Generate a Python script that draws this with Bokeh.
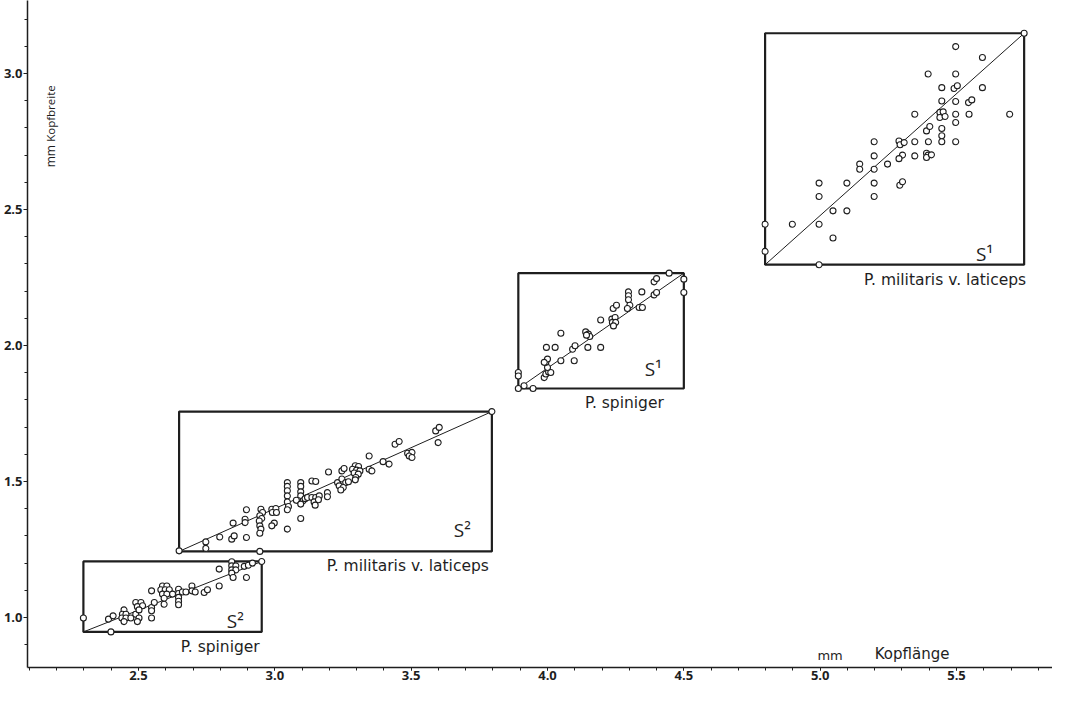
import math
from bokeh.plotting import figure
from bokeh.models import FixedTicker, Label, PrintfTickFormatter
from bokeh.embed import file_html
from bokeh.resources import INLINE

# ---------------- data (mm) ----------------
# P. spiniger, S2
sp_s2_x = [2.298, 2.399, 2.390, 2.407, 2.447, 2.441, 2.454, 2.439, 2.454, 2.447,
           2.472, 2.490, 2.502, 2.496, 2.490, 2.509, 2.496, 2.515, 2.502, 2.548,
           2.548, 2.548, 2.548, 2.558, 2.588, 2.604, 2.582, 2.598, 2.613, 2.588,
           2.604, 2.594, 2.594, 2.625, 2.647, 2.647, 2.647, 2.647, 2.647, 2.661,
           2.674, 2.696, 2.696, 2.708, 2.741, 2.753, 2.796, 2.796, 2.842, 2.842,
           2.857, 2.842, 2.857, 2.842, 2.847, 2.888, 2.903, 2.918, 2.896, 2.952]
sp_s2_y = [0.998, 0.947, 0.994, 1.006, 1.028, 1.012, 1.012, 0.998, 0.998, 0.985,
           0.998, 1.012, 0.998, 0.985, 1.055, 1.055, 1.040, 1.043, 1.028, 1.098,
           1.037, 1.025, 0.998, 1.055, 1.116, 1.116, 1.102, 1.102, 1.102, 1.086,
           1.086, 1.071, 1.049, 1.086, 1.104, 1.088, 1.074, 1.060, 1.047, 1.094,
           1.094, 1.116, 1.098, 1.094, 1.092, 1.102, 1.178, 1.116, 1.205, 1.190,
           1.190, 1.175, 1.175, 1.163, 1.147, 1.188, 1.192, 1.200, 1.147, 1.206]

# P. militaris v. laticeps, S2
ml_s2_x = [2.649, 2.747, 2.747, 2.798, 2.842, 2.851, 2.847, 2.896, 2.896, 2.891,
           2.891, 2.945, 2.949, 2.955, 2.945, 2.952, 2.943, 2.945, 2.949, 2.945,
           2.989, 3.004, 2.991, 3.006, 2.998, 2.989, 3.046, 3.046, 3.046, 3.046,
           3.046, 3.050, 3.046, 3.046, 3.095, 3.095, 3.095, 3.095, 3.087, 3.104,
           3.079, 3.095, 3.111, 3.095, 3.136, 3.150, 3.120, 3.136, 3.150, 3.163,
           3.144, 3.160, 3.148, 3.193, 3.193, 3.197, 3.230, 3.246, 3.260, 3.236,
           3.251, 3.242, 3.270, 3.246, 3.254, 3.295, 3.307, 3.285, 3.300, 3.312,
           3.291, 3.306, 3.297, 3.295, 3.346, 3.346, 3.356, 3.397, 3.419, 3.441,
           3.456, 3.487, 3.503, 3.493, 3.503, 3.590, 3.603, 3.599, 3.796]
ml_s2_y = [1.245, 1.278, 1.254, 1.296, 1.288, 1.300, 1.347, 1.396, 1.294, 1.361,
           1.349, 1.243, 1.398, 1.386, 1.374, 1.364, 1.355, 1.337, 1.325, 1.310,
           1.398, 1.401, 1.386, 1.386, 1.347, 1.337, 1.496, 1.482, 1.466, 1.447,
           1.425, 1.408, 1.396, 1.325, 1.496, 1.482, 1.462, 1.447, 1.429, 1.429,
           1.431, 1.417, 1.437, 1.364, 1.502, 1.500, 1.441, 1.441, 1.441, 1.447,
           1.425, 1.433, 1.413, 1.459, 1.444, 1.535, 1.496, 1.509, 1.496, 1.484,
           1.478, 1.469, 1.499, 1.539, 1.548, 1.558, 1.555, 1.545, 1.542, 1.539,
           1.531, 1.527, 1.515, 1.506, 1.594, 1.545, 1.539, 1.573, 1.564, 1.637,
           1.647, 1.604, 1.607, 1.594, 1.588, 1.686, 1.699, 1.643, 1.757]

# P. spiniger, S1
sp_s1_x = [3.893, 3.893, 3.893, 3.914, 3.947, 3.988, 3.994, 4.004, 4.012, 4.000,
           3.994, 4.000, 3.988, 3.996, 4.028, 4.049, 4.049, 4.092, 4.101, 4.098,
           4.140, 4.150, 4.155, 4.143, 4.148, 4.195, 4.195, 4.236, 4.248, 4.238,
           4.250, 4.242, 4.241, 4.253, 4.297, 4.297, 4.297, 4.302, 4.293, 4.346,
           4.336, 4.348, 4.391, 4.400, 4.391, 4.400, 4.446, 4.500, 4.500]
sp_s1_y = [1.901, 1.888, 1.842, 1.852, 1.842, 1.882, 1.895, 1.903, 1.901, 1.919,
           1.938, 1.950, 1.938, 1.993, 1.993, 2.045, 1.944, 1.986, 1.999, 1.944,
           2.050, 2.042, 2.033, 2.038, 1.993, 1.993, 2.094, 2.097, 2.103, 2.085,
           2.085, 2.072, 2.136, 2.148, 2.197, 2.183, 2.168, 2.148, 2.136, 2.197,
           2.140, 2.140, 2.234, 2.246, 2.186, 2.195, 2.266, 2.244, 2.195]

# P. militaris v. laticeps, S1
ml_s1_x = [4.798, 4.798, 4.996, 4.898, 4.996, 4.996, 4.996, 5.047, 5.047, 5.098,
           5.098, 5.145, 5.145, 5.198, 5.198, 5.198, 5.198, 5.198, 5.247, 5.289,
           5.293, 5.308, 5.302, 5.289, 5.292, 5.302, 5.347, 5.347, 5.347, 5.390,
           5.402, 5.390, 5.396, 5.390, 5.408, 5.396, 5.397, 5.439, 5.451, 5.439,
           5.458, 5.446, 5.446, 5.446, 5.446, 5.446, 5.497, 5.497, 5.497, 5.497,
           5.497, 5.497, 5.491, 5.503, 5.544, 5.556, 5.546, 5.595, 5.595, 5.695,
           5.748]
ml_s1_y = [2.446, 2.346, 2.297, 2.446, 2.597, 2.548, 2.446, 2.495, 2.395, 2.597,
           2.495, 2.667, 2.648, 2.749, 2.697, 2.648, 2.597, 2.548, 2.667, 2.752,
           2.738, 2.746, 2.700, 2.687, 2.589, 2.602, 2.850, 2.749, 2.697, 2.789,
           2.805, 2.707, 2.700, 2.691, 2.701, 2.998, 2.749, 2.857, 2.859, 2.838,
           2.842, 2.948, 2.899, 2.798, 2.771, 2.749, 3.099, 2.998, 2.897, 2.850,
           2.820, 2.749, 2.945, 2.955, 2.893, 2.903, 2.850, 3.059, 2.948, 2.850,
           3.148]

species = ["P. spiniger", "P. militaris v. laticeps", "P. spiniger", "P. militaris v. laticeps"]
stages = ["S²", "S²", "S¹", "S¹"]
series_x = [sp_s2_x, ml_s2_x, sp_s1_x, ml_s1_x]
series_y = [sp_s2_y, ml_s2_y, sp_s1_y, ml_s1_y]

x_ticks = [2.5, 3.0, 3.5, 4.0, 4.5, 5.0, 5.5]
x_tick_labels = ["2.5", "3.0", "3.5", "4.0", "4.5", "5.0", "5.5"]
y_ticks = [1.0, 1.5, 2.0, 2.5, 3.0]
y_tick_labels = ["1.0", "1.5", "2.0", "2.5", "3.0"]
x_title_unit, x_title = "mm", "Kopflänge"
y_title_unit, y_title = "mm", "Kopfbreite"

# ---------------- layout / style ----------------
INK = "#1e1e1e"
FONT = "Open Sans"
LFONT = "DejaVu Sans"
# (stage label dx, dy, species label dx) in screen px from box's lower-right corner
label_offsets = [(-18, -2, -2), (-21, 8, -3), (-22, 6, -20), (-31, -2, 2)]

p = figure(width=1052, height=688, x_range=(2.093, 5.852), y_range=(0.8162, 3.2684),
           output_backend="svg", toolbar_location=None,
           min_border_left=27, min_border_right=0, min_border_top=0, min_border_bottom=21)
p.outline_line_color = None
p.grid.visible = False
p.background_fill_color = "white"
p.border_fill_color = "white"

x_minor = [round(2.1 + 0.1 * i, 1) for i in range(38)]
y_minor = [round(0.9 + 0.1 * i, 1) for i in range(24)]
p.xaxis.ticker = FixedTicker(ticks=x_ticks, minor_ticks=x_minor)
p.yaxis.ticker = FixedTicker(ticks=y_ticks, minor_ticks=y_minor)
p.xaxis.formatter = PrintfTickFormatter(format="%.1f")
p.yaxis.formatter = PrintfTickFormatter(format="%.1f")
p.xaxis.major_label_overrides = dict(zip(x_ticks, x_tick_labels))
p.yaxis.major_label_overrides = dict(zip(y_ticks, y_tick_labels))
for ax in (p.xaxis, p.yaxis):
    ax.axis_line_color = INK
    ax.axis_line_width = 1.5
    ax.major_tick_line_color = INK
    ax.minor_tick_line_color = INK
    ax.major_tick_in = 0
    ax.minor_tick_in = 0
    ax.minor_tick_out = 3
    ax.major_label_text_font = FONT
    ax.major_label_text_font_size = "13px"
    ax.major_label_text_font_style = "bold"
    ax.major_label_text_color = INK
p.xaxis.major_tick_out = 3
p.yaxis.major_tick_out = 4
p.xaxis.major_label_standoff = 0
p.yaxis.major_label_standoff = 1

for i, (xs, ys) in enumerate(zip(series_x, series_y)):
    x0, x1, y0, y1 = min(xs), max(xs), min(ys), max(ys)
    p.quad(left=[x0], right=[x1], bottom=[y0], top=[y1], fill_color=None,
           line_color=INK, line_width=2.2)
    p.line([x0, x1], [y0, y1], line_color=INK, line_width=1)
    p.scatter(xs, ys, marker="circle", size=6, fill_color="white",
              line_color=INK, line_width=1.1)
    sdx, sdy, ldx = label_offsets[i]
    p.add_layout(Label(x=x1, y=y0, x_offset=sdx, y_offset=sdy, text=stages[i],
                       text_align="right", text_baseline="bottom", text_font=FONT,
                       text_font_size="19px", text_color=INK))
    p.add_layout(Label(x=x1, y=y0, x_offset=ldx, y_offset=-6, text=species[i],
                       text_align="right", text_baseline="top", text_font=LFONT,
                       text_font_size="15.5px", text_color=INK))

# axis titles inside plot area
p.add_layout(Label(x=4.99, y=p.y_range.start, y_offset=5, text=x_title_unit, text_align="left",
                   text_baseline="bottom", text_font=LFONT, text_font_size="13px",
                   text_color=INK))
p.add_layout(Label(x=5.20, y=p.y_range.start, y_offset=5, text=x_title, text_align="left",
                   text_baseline="bottom", text_font=LFONT, text_font_size="15px",
                   text_color=INK))
p.add_layout(Label(x=2.177, y=2.655, text=y_title_unit, angle=math.pi / 2, text_align="left",
                   text_baseline="middle", text_font=FONT, text_font_size="12px", text_color=INK))
p.add_layout(Label(x=2.177, y=2.749, text=y_title, angle=math.pi / 2, text_align="left",
                   text_baseline="middle", text_font=FONT, text_font_size="11.5px", text_color=INK))

open("out.html", "w").write(file_html(p, INLINE))
